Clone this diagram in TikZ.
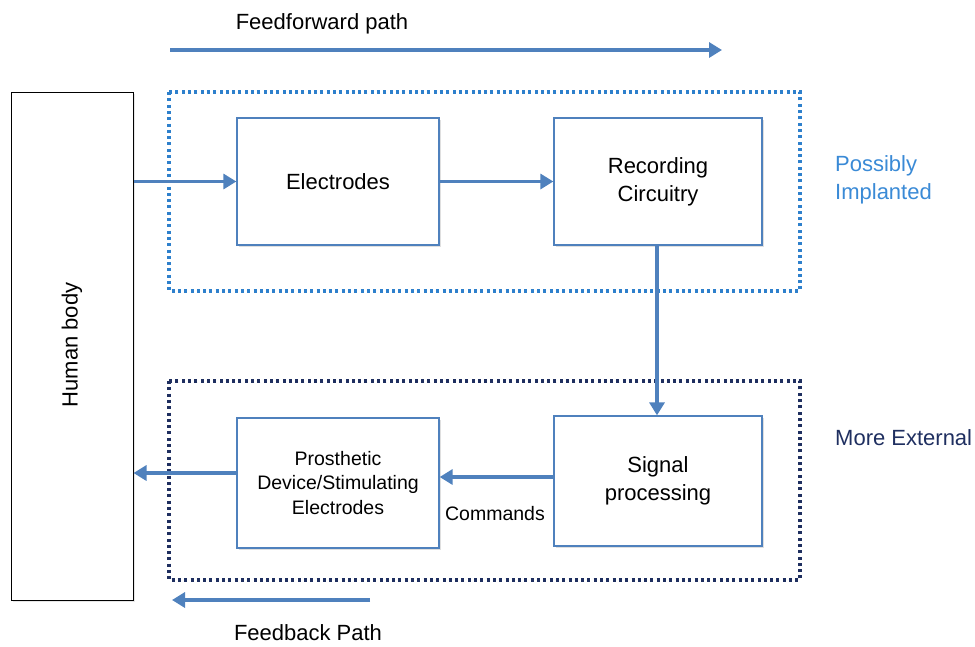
\documentclass[tikz,border=0pt]{standalone}
\usepackage{fontspec}
\setmainfont{Liberation Sans}
\usetikzlibrary{arrows.meta,shadows}
\definecolor{boxblue}{HTML}{4F81BD}
\definecolor{implblue}{HTML}{2E80CC}
\definecolor{navy}{HTML}{1F2F60}
\definecolor{labelblue}{HTML}{3A8AD6}
\tikzset{
  blk/.style={draw=boxblue, line width=1.3pt, fill=white, inner sep=0pt,
    drop shadow={opacity=0.25, shadow xshift=1.5pt, shadow yshift=-1.5pt},
    align=center, font=\fontsize{22}{28}\selectfont},
  flow/.style={draw=boxblue, line width=3.8pt, -{Triangle[length=13pt,width=15pt]}},
  dotbox/.style={line width=3.5pt, dash pattern=on 3pt off 3.3pt},
  lbl/.style={font=\fontsize{22}{28}\selectfont, inner sep=0pt}
}
\begin{document}
\begin{tikzpicture}[x=1pt,y=-1pt]
\useasboundingbox (0,0) rectangle (975,646);
% dotted regions
\draw[dotbox, draw=implblue] (169,92) rectangle (800,291);
\draw[dotbox, draw=navy] (169,381) rectangle (800,580);
% human body
\node[draw=black, line width=1pt, fill=white, minimum width=122pt, minimum height=508pt, inner sep=0pt,
  drop shadow={opacity=0.2, shadow xshift=1.5pt, shadow yshift=-1.5pt}] (body) at (72,346) {};
\node[lbl, rotate=90] (bodytxt) at (72,345) {Human body};
% blocks
\node[blk, minimum width=202pt, minimum height=127pt] (elec) at (338,181.5) {Electrodes};
\node[blk, minimum width=208pt, minimum height=127pt] (rec) at (658,181.5) {Recording\\Circuitry};
\node[blk, minimum width=208pt, minimum height=130pt] (sig) at (658,481) {Signal\\processing};
\node[blk, minimum width=202pt, minimum height=130pt, font=\fontsize{19.5}{24.5}\selectfont] (pro) at (338,483) {Prosthetic\\Device/Stimulating\\Electrodes};
% labels
\node[lbl, anchor=base] (ff) at (322,29) {Feedforward path};
\node[lbl, anchor=base] (fb) at (308,640) {Feedback Path};
\node[lbl, anchor=west, align=left, text=labelblue] (impl) at (835,180) {Possibly\\Implanted};
\node[lbl, anchor=west, text=navy] (ext) at (835,438) {More External};
\node[lbl, font=\fontsize{19.5}{24}\selectfont] (cmd) at (495,514) {Commands};
% path arrows
\coordinate (ffs) at (170,50);
\coordinate (ffe) at (722,50);
\coordinate (fbs) at (370,600);
\coordinate (fbe) at (172,600);
\draw[flow] (ffs) -- (ffe);
\draw[flow] (fbs) -- (fbe);
% connectors
\draw[flow] (body.east |- elec.west) -- (elec.west);
\draw[flow] (elec.east) -- (rec.west |- elec.east);
\draw[flow] ([xshift=-1pt]rec.south) -- ([xshift=-1pt]sig.north);
\draw[flow] (sig.west |- 0,477) -- (pro.east |- 0,477);
\draw[flow] (pro.west |- 0,473) -- (body.east |- 0,473);
\end{tikzpicture}
\end{document}
